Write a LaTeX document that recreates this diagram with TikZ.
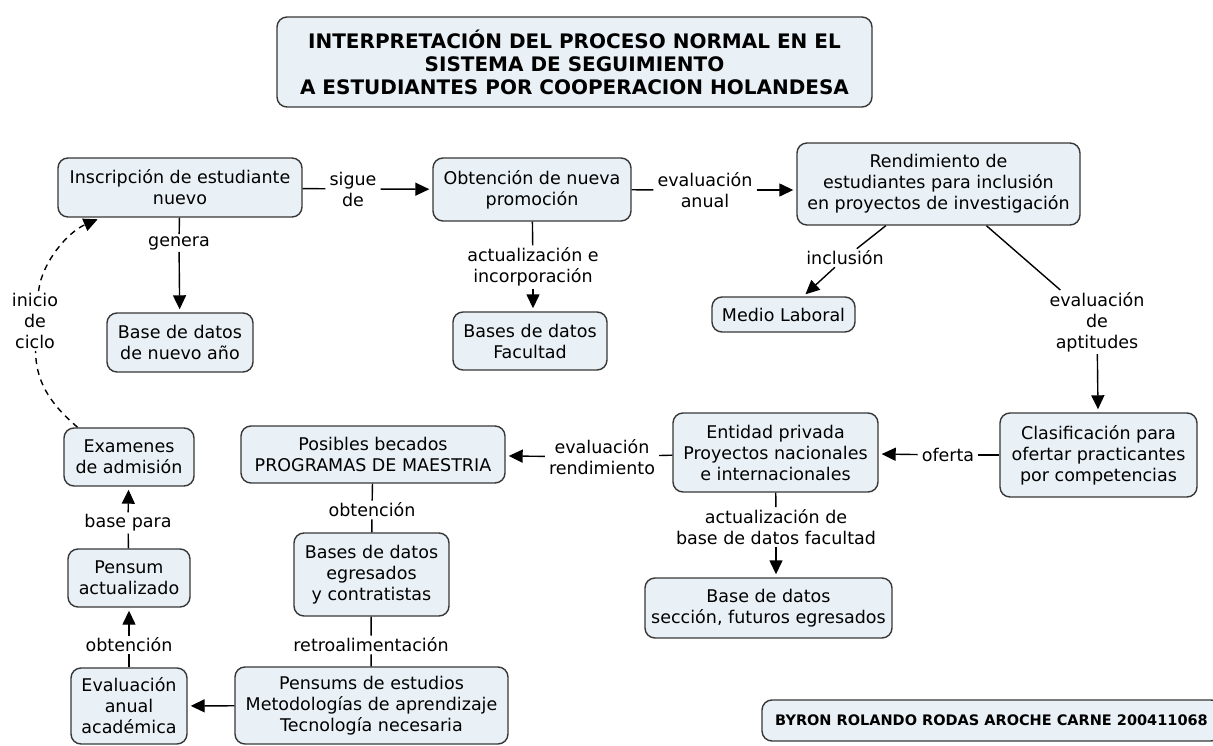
\documentclass[tikz,border=0pt]{standalone}
\usepackage{fontspec}
\setmainfont{DejaVu Sans}
\usetikzlibrary{arrows.meta}
\definecolor{boxfill}{RGB}{233,241,246}
\definecolor{boxline}{RGB}{55,55,55}
\tikzset{
  cbox/.style={draw=boxline, fill=boxfill, line width=1.4pt, rounded corners=10pt,
    align=center, font=\fontsize{17.5}{21}\selectfont, inner sep=0pt},
  lbl/.style={align=center, font=\fontsize{17.5}{21}\selectfont, inner xsep=4pt, inner ysep=2pt},
  conn/.style={line width=1.4pt, draw=black},
  arr/.style={conn, -{Triangle[length=14pt,width=13pt]}, shorten >=3pt},
  dashconn/.style={conn, dash pattern=on 6pt off 5pt},
}
\begin{document}
\begin{tikzpicture}[x=1pt,y=-1pt]
\clip (0,0) rectangle (1213,746);
\fill[white] (0,0) rectangle (1213,746);

% title
\node[cbox, minimum width=595pt, minimum height=90pt,
  font=\bfseries\fontsize{20}{23}\selectfont] (title) at (574.5,62)
  {INTERPRETACIÓN DEL PROCESO NORMAL EN EL\\SISTEMA DE SEGUIMIENTO\\A ESTUDIANTES POR COOPERACION HOLANDESA};

% concept boxes
\node[cbox, minimum width=244pt, minimum height=59pt] (insc) at (180,187.5) {Inscripción de estudiante\\nuevo};
\node[cbox, minimum width=198pt, minimum height=63pt] (obt) at (532,189.5) {Obtención de nueva\\promoción};
\node[cbox, minimum width=283pt, minimum height=82pt] (rend) at (938.5,184) {Rendimiento de\\estudiantes para inclusión\\en proyectos de investigación};
\node[cbox, minimum width=143pt, minimum height=35pt] (medio) at (783.5,314.5) {Medio Laboral};
\node[cbox, minimum width=197pt, minimum height=84pt] (clas) at (1098.5,455) {Clasificación para\\ofertar practicantes\\por competencias};
\node[cbox, minimum width=205pt, minimum height=79pt] (ent) at (775.5,452.5) {Entidad privada\\Proyectos nacionales\\e internacionales};
\node[cbox, minimum width=264pt, minimum height=57pt] (pos) at (373,454.5) {Posibles becados\\PROGRAMAS DE MAESTRIA};
\node[cbox, minimum width=155pt, minimum height=83pt] (bdeg) at (371.5,574.5) {Bases de datos\\egresados\\y contratistas};
\node[cbox, minimum width=273pt, minimum height=77pt] (pens) at (371.5,705.5) {Pensums de estudios\\Metodologías de aprendizaje\\Tecnología necesaria};
\node[cbox, minimum width=116pt, minimum height=76pt] (evan) at (129,706) {Evaluación\\anual\\académica};
\node[cbox, minimum width=122pt, minimum height=58pt] (pact) at (129,578) {Pensum\\actualizado};
\node[cbox, minimum width=130pt, minimum height=58pt] (exam) at (129,457) {Examenes\\de admisión};
\node[cbox, minimum width=146pt, minimum height=59pt] (bdna) at (180,342.5) {Base de datos\\de nuevo año};
\node[cbox, minimum width=154pt, minimum height=58pt] (bdfac) at (530,341) {Bases de datos\\Facultad};
\node[cbox, minimum width=247pt, minimum height=60pt] (bdsec) at (768.5,608) {Base de datos\\sección, futuros egresados};
\node[cbox, minimum width=459pt, minimum height=41pt,
  font=\bfseries\fontsize{14.5}{17}\selectfont] (byron) at (991.5,720.5)
  {BYRON ROLANDO RODAS AROCHE CARNE 200411068};

% linking phrases
\node[lbl] (l1) at (353,189) {sigue\\de};
\node[lbl] (l2) at (705,190) {evaluación\\anual};
\node[lbl] (l3) at (179,243) {genera};
\node[lbl] (l4) at (533,267) {actualización e\\incorporación};
\node[lbl] (l5) at (845,258) {inclusión};
\node[lbl] (l6) at (1097,322) {evaluación\\de\\aptitudes};
\node[lbl] (l7) at (948,455) {oferta};
\node[lbl] (l8) at (602,457) {evaluación\\rendimiento};
\node[lbl] (l9) at (776,527) {actualización de\\base de datos facultad};
\node[lbl] (l10) at (372,510) {obtención};
\node[lbl] (l11) at (371,645) {retroalimentación};
\node[lbl] (l12) at (128,523) {base para};
\node[lbl] (l13) at (129,645) {obtención};
\node[lbl] (l14) at (35,321) {inicio\\de\\ciclo};

% connectors
\draw[conn] (insc) -- (l1);  \draw[arr] (l1) -- (obt);
\draw[conn] (obt) -- (l2);   \draw[arr] (l2) -- (l2 -| rend.west);
\draw[conn] (insc) -- (l3);  \draw[arr] (l3) -- (bdna);
\draw[conn] (obt) -- (l4);   \draw[arr] (l4) -- (l4 |- bdfac.north);
\draw[conn] (rend) -- (l5);  \draw[arr] (l5) -- (medio);
\draw[conn] (rend) -- (l6);  \draw[arr] (l6) -- (clas);
\draw[conn] (clas) -- (l7);  \draw[arr] (l7) -- (ent);
\draw[conn] (ent) -- (l8);   \draw[arr] (l8) -- (pos);
\draw[conn] (ent) -- (l9);   \draw[arr] (l9) -- (l9 |- bdsec.north);
\draw[conn] (pos) -- (l10);  \draw[conn] (l10) -- (bdeg);
\draw[conn] (bdeg) -- (l11); \draw[conn] (l11) -- (pens);
\draw[arr] (pens) -- (evan);
\draw[conn] (evan) -- (l13); \draw[arr] (l13) -- (pact);
\draw[conn] (pact) -- (l12); \draw[arr] (l12) -- (exam);
\draw[dashconn] (exam.150) .. controls (48,402) and (36,380) .. (l14);
\draw[dashconn, -{Triangle[length=14pt,width=13pt]}, shorten >=4pt] (l14) .. controls (42,262) and (68,232) .. (insc.201);
\end{tikzpicture}
\end{document}
